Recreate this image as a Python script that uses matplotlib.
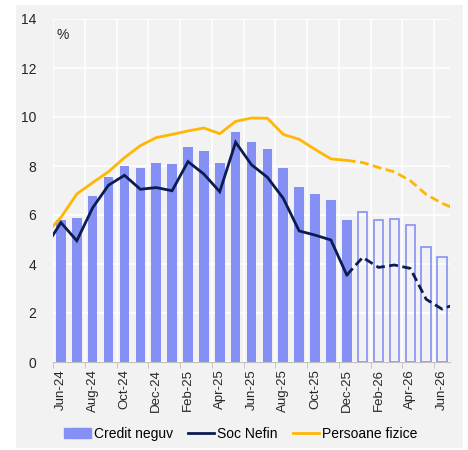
import numpy as np
import matplotlib.pyplot as plt
from matplotlib.patches import Rectangle
from matplotlib.lines import Line2D

plt.rcParams['font.family'] = ['Liberation Sans', 'DejaVu Sans']

# ------------------------------------------------------------
# data (% y/y)
# ------------------------------------------------------------
months = ["Jun-24", "Jul-24", "Aug-24", "Sep-24", "Oct-24", "Nov-24", "Dec-24",
          "Jan-25", "Feb-25", "Mar-25", "Apr-25", "May-25", "Jun-25", "Jul-25",
          "Aug-25", "Sep-25", "Oct-25", "Nov-25", "Dec-25",
          "Jan-26", "Feb-26", "Mar-26", "Apr-26", "May-26", "Jun-26"]
n_actual = 19  # Jun-24 .. Dec-25 realised, rest projected

credit_neguv = [5.80, 5.89, 6.79, 7.54, 8.00, 7.93, 8.11, 8.08, 8.79, 8.60,
                8.11, 9.40, 8.99, 8.68, 7.93, 7.16, 6.87, 6.60, 5.81,
                6.14, 5.80, 5.82, 5.59, 4.71, 4.27]

# lines run one month past each edge of the axis (clipped)
soc_nefin_prev, soc_nefin_next = 4.67, 2.40
soc_nefin = [5.69, 4.95, 6.30, 7.22, 7.62, 7.05, 7.12, 6.99, 8.18, 7.67,
             6.95, 8.97, 8.05, 7.54, 6.68, 5.35, 5.18, 4.98, 3.55,
             4.27, 3.86, 3.96, 3.82, 2.56, 2.16]

pf_prev, pf_next = 5.20, 6.20
persoane_fizice = [5.90, 6.86, 7.32, 7.77, 8.34, 8.83, 9.16, 9.29, 9.43, 9.55,
                   9.32, 9.82, 9.96, 9.95, 9.29, 9.09, 8.68, 8.29, 8.23,
                   8.14, 7.94, 7.76, 7.40, 6.84, 6.48]

# ------------------------------------------------------------
# plot
# ------------------------------------------------------------
bg = "#f2f2f2"
bar_col = "#8590f5"
navy = "#0b1c52"
gold = "#ffb703"

fig = plt.figure(figsize=(4.68, 4.5), dpi=100, facecolor="white")
fig.patches.append(Rectangle((16 / 468, 2 / 450), 447 / 468, 443 / 450,
                             transform=fig.transFigure, facecolor=bg,
                             edgecolor="none", zorder=-1))
ax = fig.add_axes([53 / 468, 88 / 450, 397 / 468, 343 / 450])
ax.set_facecolor(bg)

x = np.arange(len(months))
ax.bar(x[:n_actual], credit_neguv[:n_actual], width=0.6, color=bar_col, zorder=2)
ax.bar(x[n_actual:], credit_neguv[n_actual:], width=0.6, facecolor="none",
       edgecolor=bar_col, linewidth=1.2, zorder=2)

def draw_line(prev, vals, nxt, col):
    xs = np.concatenate([[-1], x, [len(x)]])
    ys = np.concatenate([[prev], vals, [nxt]])
    k = n_actual + 1  # index of Dec-25 in extended arrays
    ax.plot(xs[:k], ys[:k], color=col, lw=2, zorder=3, solid_joinstyle="miter")
    ax.plot(xs[k - 1:], ys[k - 1:], color=col, lw=2, ls=(0, (3.2, 1.6)), zorder=3)

draw_line(pf_prev, persoane_fizice, pf_next, gold)
draw_line(soc_nefin_prev, soc_nefin, soc_nefin_next, navy)

ax.set_xlim(-0.5, len(x) - 0.5)
ax.set_ylim(0, 14)
ax.set_yticks(np.arange(0, 15, 2))
ax.set_xticks(x[::2])
ax.set_xticklabels(months[::2], rotation=90)
ax.set_xticks(np.arange(-0.5, len(x), 2), minor=True)

ax.grid(True, axis="y", color="white", lw=1.2, zorder=0)
ax.grid(True, axis="x", which="minor", color="white", lw=1.2, zorder=0)
ax.set_axisbelow(True)

for s in ["top", "right", "left"]:
    ax.spines[s].set_visible(False)
ax.spines["bottom"].set_color("#bfbfbf")
ax.tick_params(axis="x", which="major", length=0, pad=5, labelsize=9.5, colors="#262626")
ax.tick_params(axis="x", which="minor", length=4, color="#bfbfbf")
ax.tick_params(axis="y", length=0, pad=12, labelsize=10, colors="#262626")

ax.text(0.01, 0.975, "%", transform=ax.transAxes, fontsize=10, color="#262626",
        va="top", ha="left")

handles = [Rectangle((0, 0), 1, 1, color=bar_col),
           Line2D([], [], color=navy, lw=2),
           Line2D([], [], color=gold, lw=2)]
fig.legend(handles, ["Credit neguv", "Soc Nefin", "Persoane fizice"],
           loc="center", bbox_to_anchor=(0.515, 16 / 450), ncol=3, frameon=False,
           fontsize=10, handlelength=1.9, handletextpad=0.2, columnspacing=1.1)

fig.savefig("out.png", dpi=100, facecolor="white")
